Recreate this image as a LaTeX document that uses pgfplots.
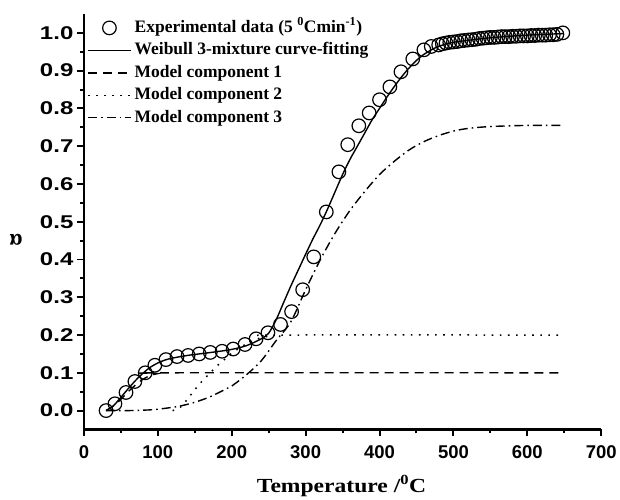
\documentclass[border=0pt]{standalone}
\usepackage{fontspec}
\setmainfont{Liberation Serif}
\setsansfont{Liberation Sans}
\usepackage{graphicx}
\usepackage{pgfplots}
\pgfplotsset{compat=1.18}
\pgfplotsset{
  longline/.style={legend image code/.code={\draw[##1] (0pt,0pt) -- (43pt,0pt);}},
  centermark/.style={legend image code/.code={\draw[mark repeat=2,mark phase=2,##1] plot coordinates {(0pt,0pt) (21.5pt,0pt) (43pt,0pt)};}},
}
\begin{document}
\begin{tikzpicture}
\begin{axis}[
  scale only axis, width=518pt, height=416pt,
  xmin=0, xmax=700, ymin=-0.05, ymax=1.05,
  axis x line*=bottom, axis y line*=left,
  axis line style={line width=2.6pt},
  xtick={0,100,...,700}, ytick={0,0.1,...,1.0},
  minor x tick num=1, minor y tick num=1,
  tick align=outside,
  major tick length=7pt, minor tick length=4pt,
  every tick/.style={line width=2pt, black},
  tick label style={font=\sffamily\bfseries\fontsize{18.5}{22}\selectfont},
  /pgf/number format/assume math mode=true,
  yticklabel={\scalebox{1.3}[1]{\pgfmathprintnumber[fixed,fixed zerofill,precision=1]{\tick}}},
  xticklabel style={yshift=-6pt},
  xlabel={\scalebox{1.18}[1]{\bfseries\fontsize{20}{24}\selectfont Temperature /\textsuperscript{0}C}},
  ylabel={\bfseries\fontsize{23}{24}\selectfont α},
  xlabel style={at={(rel axis cs:0.498,-0.151)}, anchor=base},
  ylabel style={at={(rel axis cs:-0.131,0.457)}, anchor=center, rotate=90},
  legend cell align=left,
  legend style={draw=none, fill=none, at={(rel axis cs:0.006,0.994)}, anchor=north west,
     font=\bfseries\fontsize{17.5}{22}\selectfont, row sep=0pt, inner sep=0pt,
     nodes={text height=12.5pt, text depth=4pt, inner sep=3pt}},
  longline,
  after end axis/.code={\path (rel axis cs:0,0) ++(-84pt,-70pt) rectangle ++(620pt,500pt);},
]
\addplot[only marks, mark=o, mark size=6.8pt, mark options={line width=1.2pt}, black, centermark]
coordinates {
(30,0.000) (42,0.018) (57,0.048) (69,0.077) (83,0.100) (96,0.120) (111,0.135) (126,0.143)
(141,0.146) (156,0.150) (171,0.154) (187,0.157) (202,0.163) (218,0.175) (233,0.190) (249,0.206)
(266,0.228) (281,0.262) (296,0.320) (311,0.407) (328,0.526) (345,0.632) (357,0.704) (372,0.754)
(386,0.788) (400,0.823) (414,0.857) (429,0.897) (445,0.931) (460,0.955) (470,0.964)
(480,0.968) (485,0.971) (490,0.973) (495,0.975) (500,0.976) (505,0.977) (510,0.979) (515,0.980)
(520,0.981) (525,0.982) (530,0.983) (535,0.985) (540,0.986) (545,0.987) (550,0.988) (555,0.988)
(560,0.989) (565,0.990) (570,0.990) (575,0.990) (580,0.991) (585,0.991) (590,0.992) (595,0.992)
(600,0.992) (605,0.993) (610,0.993) (615,0.994) (620,0.994) (625,0.994) (630,0.995) (635,0.995)
(640,0.996) (648,1.000)
};
\addlegendentry{Experimental data (5 \textsuperscript{0}Cmin\textsuperscript{-1})}
\addplot[black, line width=1.4pt, smooth] coordinates {
(30,0.000) (40,0.013) (50,0.035) (60,0.058) (70,0.080) (80,0.099) (90,0.115) (100,0.126)
(110,0.134) (120,0.139) (140,0.146) (160,0.151) (180,0.156) (200,0.162) (220,0.172) (240,0.190)
(250,0.205) (260,0.240) (270,0.285) (280,0.330) (290,0.372) (300,0.414) (310,0.455) (320,0.493)
(330,0.535) (340,0.580) (350,0.625) (360,0.665) (370,0.700) (380,0.735) (390,0.770) (400,0.800)
(410,0.830) (420,0.858) (430,0.884) (440,0.907) (450,0.927) (460,0.943) (470,0.955) (480,0.964)
(500,0.975) (550,0.987) (600,0.994) (648,0.998)
};
\addlegendentry{Weibull 3-mixture curve-fitting}
\addplot[black, line width=1.4pt, dash pattern=on 9pt off 6pt, smooth] coordinates {
(30,0.000) (40,0.012) (50,0.030) (60,0.050) (70,0.068) (80,0.083) (90,0.093) (100,0.098)
(110,0.100) (648,0.100)
};
\addlegendentry{Model component 1}
\addplot[black, line width=1.5pt, dash pattern=on 1.6pt off 6.5pt, smooth] coordinates {
(120,0.000) (130,0.008) (140,0.030) (150,0.055) (160,0.078) (170,0.098) (180,0.118) (190,0.135)
(200,0.152) (210,0.165) (220,0.177) (230,0.186) (240,0.193) (250,0.197) (260,0.200) (648,0.200)
};
\addlegendentry{Model component 2}
\addplot[black, line width=1.4pt, dash pattern=on 9pt off 4pt on 1.6pt off 4pt, smooth] coordinates {
(30,0.000) (60,0.000) (90,0.002) (110,0.006) (130,0.012) (150,0.022) (170,0.036) (190,0.055)
(200,0.065) (220,0.095) (240,0.132) (260,0.185) (280,0.235) (300,0.320) (320,0.400) (340,0.470)
(360,0.530) (380,0.580) (400,0.625) (420,0.660) (440,0.690) (460,0.712) (480,0.728) (500,0.740)
(520,0.747) (550,0.752) (600,0.755) (648,0.755)
};
\addlegendentry{Model component 3}
\end{axis}
\end{tikzpicture}
\end{document}
